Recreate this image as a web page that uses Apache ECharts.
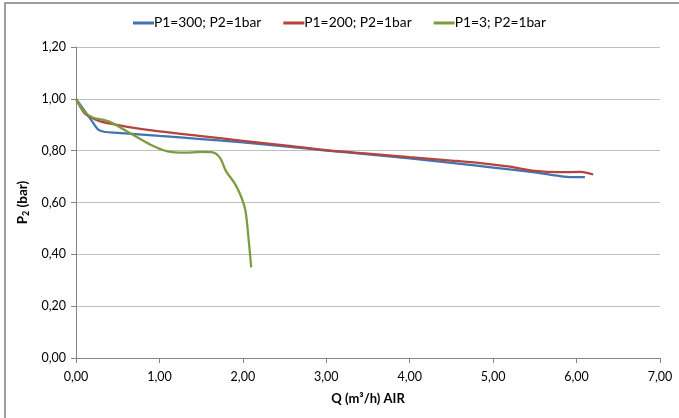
<!DOCTYPE html>
<html>
<head>
<meta charset="utf-8">
<script src="https://cdn.jsdelivr.net/npm/echarts@6/dist/echarts.min.js"></script>
<style>
  html, body { margin: 0; padding: 0; background: #fff; }
  #chart { width: 679px; height: 418px; }
</style>
</head>
<body>
<div id="chart"></div>
<script>
// series names
const seriesNames = ['P1=300; P2=1bar', 'P1=200; P2=1bar', 'P1=3; P2=1bar'];

// Q (m3/h), P2 (bar) pairs
const p300 = [
  [0, 1.0], [0.1, 0.955], [0.2, 0.91], [0.27, 0.88], [0.35, 0.872], [0.5, 0.869],
  [1.0, 0.857], [1.5, 0.845], [2.0, 0.832], [2.5, 0.817], [3.0, 0.8],
  [3.5, 0.786], [4.0, 0.77], [4.5, 0.753], [5.0, 0.735], [5.5, 0.716],
  [5.8, 0.702], [5.95, 0.698], [6.1, 0.698]
];
const p200 = [
  [0, 1.0], [0.1, 0.945], [0.2, 0.925], [0.3, 0.912], [0.6, 0.893], [1.0, 0.874],
  [1.5, 0.856], [2.0, 0.838], [2.5, 0.82], [3.0, 0.802], [3.5, 0.789],
  [4.0, 0.775], [4.5, 0.762], [4.85, 0.752], [5.2, 0.738], [5.5, 0.722],
  [5.8, 0.717], [6.05, 0.718], [6.2, 0.708]
];
const p3 = [
  [0, 1.0], [0.1, 0.95], [0.2, 0.928], [0.4, 0.912], [0.65, 0.867], [0.9, 0.822],
  [1.1, 0.797], [1.3, 0.792], [1.5, 0.795], [1.62, 0.794], [1.72, 0.775],
  [1.8, 0.72], [1.9, 0.675], [1.97, 0.63], [2.03, 0.57], [2.07, 0.455], [2.1, 0.35]
];

const colors = ['#4373b0', '#b4443f', '#7d9c3f'];
const fmt = v => v.toFixed(2).replace('.', ',');

const chart = echarts.init(document.getElementById('chart'));
chart.setOption({
  animation: false,
  textStyle: { fontFamily: 'Lato' },
  color: colors,
  graphic: [{
    type: 'rect',
    shape: { x: 5, y: 3, width: 720, height: 460 },
    style: { fill: 'none', stroke: '#7f7f7f', lineWidth: 1.5 },
    silent: true
  }],
  legend: {
    top: 11,
    left: 'center',
    itemWidth: 21,
    itemHeight: 3,
    itemGap: 22,
    icon: 'rect',
    textStyle: { fontSize: 13.8, color: '#000', padding: [0, 0, 0, -5] },
    data: seriesNames
  },
  grid: { left: 76, right: 19, top: 47, bottom: 60 },
  xAxis: {
    type: 'value',
    min: 0, max: 7, interval: 1,
    name: 'Q (m³/h) AIR',
    nameLocation: 'middle',
    nameGap: 34,
    nameTextStyle: { fontSize: 13, fontWeight: 'bold', color: '#000' },
    axisLine: { lineStyle: { color: '#868686' } },
    axisTick: { show: true, length: 5, lineStyle: { color: '#868686' } },
    axisLabel: { formatter: fmt, fontSize: 12.5, color: '#000', margin: 12 },
    splitLine: { show: false }
  },
  yAxis: {
    type: 'value',
    min: 0, max: 1.2, interval: 0.2,
    name: '{b|P}{s|2}{b| (bar)}',
    nameLocation: 'middle',
    nameGap: 40,
    nameRotate: 90,
    nameTextStyle: {
      rich: {
        b: { fontSize: 13.5, fontWeight: 'bold', color: '#000', fontFamily: 'Lato' },
        s: { fontSize: 9, fontWeight: 'bold', color: '#000', fontFamily: 'Lato', verticalAlign: 'bottom', padding: [6, 0, 0, 0] }
      }
    },
    axisLine: { show: true, lineStyle: { color: '#868686' } },
    axisTick: { show: true, length: 5, lineStyle: { color: '#868686' } },
    axisLabel: { formatter: fmt, fontSize: 12.5, color: '#000', margin: 10 },
    splitLine: { lineStyle: { color: '#bfbfbf' } }
  },
  series: [
    { name: seriesNames[0], type: 'line', data: p300, smooth: 0.3, showSymbol: false, lineStyle: { width: 2.25 } },
    { name: seriesNames[1], type: 'line', data: p200, smooth: 0.3, showSymbol: false, lineStyle: { width: 2.25 } },
    { name: seriesNames[2], type: 'line', data: p3, smooth: 0.3, showSymbol: false, lineStyle: { width: 2.25 } }
  ]
});
</script>
</body>
</html>
